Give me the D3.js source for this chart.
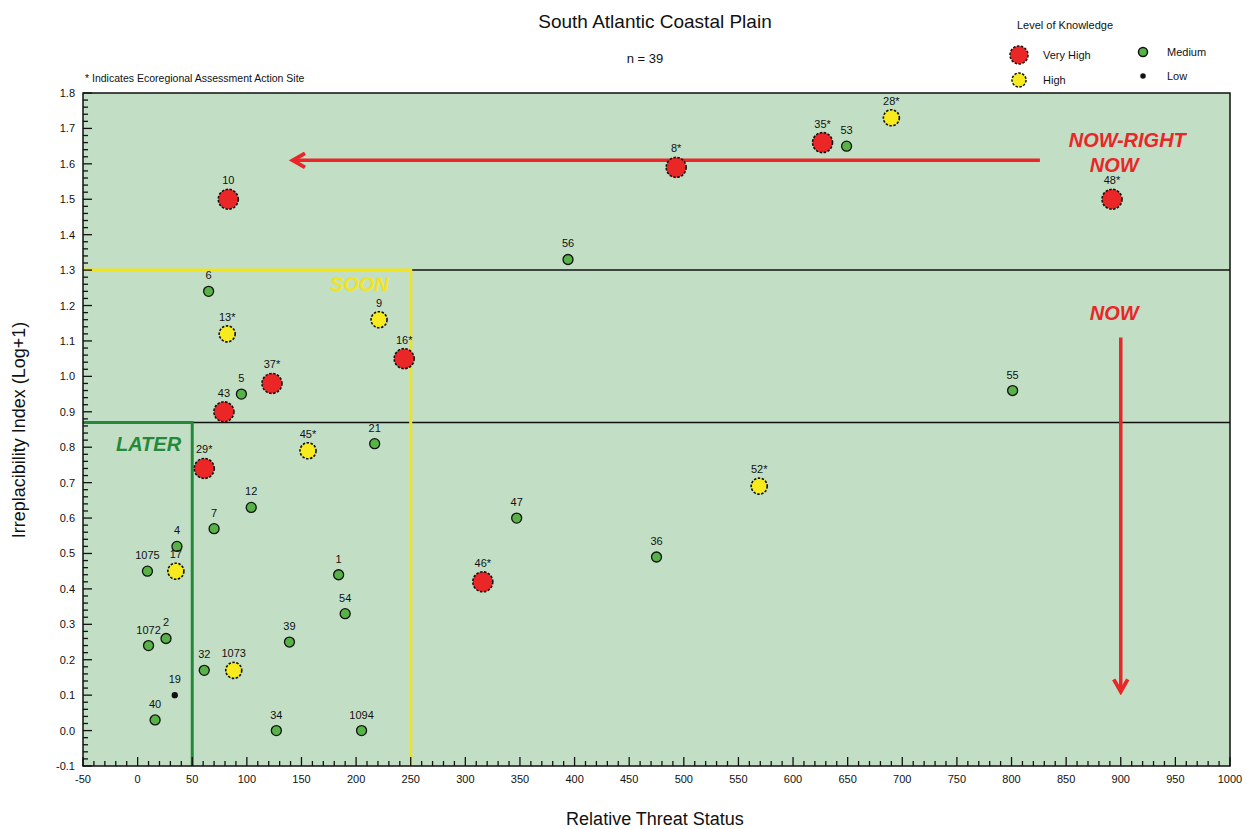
<!DOCTYPE html>
<html><head><meta charset="utf-8">
<script src="https://cdn.jsdelivr.net/npm/d3@7"></script>
<style>body{margin:0;background:#fff}svg{display:block;font-family:"Liberation Sans",Arial,sans-serif}</style>
</head><body><svg id="c" width="1246" height="829"></svg>
<script>
// ---- data ----
const veryHighLabels = ["10","8*","35*","48*","37*","16*","43","29*","46*"];
const veryHighX = [83, 493, 627, 892, 123, 244, 79, 61, 316];
const veryHighY = [1.50, 1.59, 1.66, 1.50, 0.98, 1.05, 0.90, 0.74, 0.42];
const highLabels = ["28*","13*","9","45*","17","1073","52*"];
const highX = [690, 82, 221, 156, 35, 88, 569];
const highY = [1.73, 1.12, 1.16, 0.79, 0.45, 0.17, 0.69];
const mediumLabels = ["53","56","6","5","21","12","7","4","1075","1","54","1072","2","39","32","40","34","1094","47","36","55"];
const mediumX = [649, 394, 65, 95, 217, 104, 70, 36, 9, 184, 190, 10, 26, 139, 61, 16, 127, 205, 347, 475, 801];
const mediumY = [1.65, 1.33, 1.24, 0.95, 0.81, 0.63, 0.57, 0.52, 0.45, 0.44, 0.33, 0.24, 0.26, 0.25, 0.17, 0.03, 0.00, 0.00, 0.60, 0.49, 0.96];
const lowLabels = ["19"];
const lowX = [34];
const lowY = [0.10];
const xTicks = d3.range(-50, 1001, 50);
const yTicks = d3.range(-1, 19).map(d => +(d / 10).toFixed(1));
const thresholdsY = [0.87, 1.3];
const laterBox = [-50, 50, -0.1, 0.87];
const soonBox = [-50, 250, -0.1, 1.3];

// ---- layout ----
const svg = d3.select("#c");
const L = 83, R = 1230, T = 93, B = 766;
const x = d3.scaleLinear().domain([-50, 1000]).range([L, R]);
const y = d3.scaleLinear().domain([-0.1, 1.8]).range([B, T]);

svg.append("rect").attr("x", L).attr("y", T).attr("width", R - L).attr("height", B - T).attr("fill", "#c2dfc5");

// threshold lines
thresholdsY.forEach(v => svg.append("line").attr("x1", L).attr("x2", R).attr("y1", y(v)).attr("y2", y(v)).attr("stroke", "#111").attr("stroke-width", 1.5));
// soon box
svg.append("path").attr("d", `M${x(soonBox[0])},${y(soonBox[3])}H${x(soonBox[1])}V${y(soonBox[2])}`)
  .attr("fill", "none").attr("stroke", "#f2e41c").attr("stroke-width", 3);
// later box
svg.append("path").attr("d", `M${x(laterBox[0])},${y(laterBox[3])}H${x(laterBox[1])}V${y(laterBox[2])}`)
  .attr("fill", "none").attr("stroke", "#24893a").attr("stroke-width", 3);

// axes (ticks inside)
const xMinor = d3.range(-50, 1001, 10);
const yMinor = d3.range(-10, 181, 2).map(d => d / 100);
const ax = svg.append("g").attr("stroke", "#111");
xMinor.forEach(v => { const major = xTicks.includes(v); ax.append("line").attr("x1", x(v)).attr("x2", x(v)).attr("y1", B).attr("y2", B - (major ? 9 : 5)).attr("stroke-width", 1.3); });
yMinor.forEach(v => { const major = Math.abs(v * 10 - Math.round(v * 10)) < 1e-6; ax.append("line").attr("y1", y(v)).attr("y2", y(v)).attr("x1", L).attr("x2", L + (major ? 9 : 5)).attr("stroke-width", 1.3); });
svg.append("rect").attr("x", L).attr("y", T).attr("width", R - L).attr("height", B - T).attr("fill", "none").attr("stroke", "#111").attr("stroke-width", 1.5);

svg.append("g").selectAll("text").data(xTicks).join("text")
  .attr("x", d => x(d)).attr("y", B + 17).attr("text-anchor", "middle").attr("font-size", 11).attr("fill", "#111").text(d => d);
svg.append("g").selectAll("text").data(yTicks).join("text")
  .attr("x", L - 8).attr("y", d => y(d) + 4).attr("text-anchor", "end").attr("font-size", 11).attr("fill", "#111").text(d => d.toFixed(1));

// arrows
const red = "#ea2629";
svg.append("defs").append("marker").attr("id", "ah").attr("viewBox", "0 0 10 10").attr("refX", 8).attr("refY", 5)
  .attr("markerWidth", 5).attr("markerHeight", 5).attr("orient", "auto-start-reverse")
  .append("path").attr("d", "M1,1L8,5L1,9").attr("fill", "none").attr("stroke", red).attr("stroke-width", 2.2);
svg.append("line").attr("x1", x(826)).attr("x2", x(142)).attr("y1", y(1.61)).attr("y2", y(1.61)).attr("stroke", red).attr("stroke-width", 3.5).attr("marker-end", "url(#ah)");
svg.append("line").attr("x1", x(900)).attr("x2", x(900)).attr("y1", y(1.11)).attr("y2", y(0.11)).attr("stroke", red).attr("stroke-width", 3.5).attr("marker-end", "url(#ah)");

// annotation texts
function note(t, xv, yv, col, size) {
  svg.append("text").attr("x", x(xv)).attr("y", y(yv)).attr("text-anchor", "middle").attr("font-size", size)
    .attr("font-weight", "bold").attr("font-style", "italic").attr("fill", col).text(t);
}
note("NOW-RIGHT", 906, 1.647, red, 20);
note("NOW", 894, 1.577, red, 20);
note("NOW", 894, 1.16, red, 20);
note("SOON", 203, 1.24, "#f2e41c", 20);
note("LATER", 10, 0.79, "#24893a", 20);

// points
function drawGroup(xs, ys, labels, fill, r, dash, labOff) {
  const g = svg.append("g");
  xs.forEach((xv, i) => {
    g.append("circle").attr("cx", x(xv)).attr("cy", y(ys[i])).attr("r", r).attr("fill", fill)
      .attr("stroke", "#111").attr("stroke-width", dash ? 1.6 : 1.3).attr("stroke-dasharray", dash ? "2.5,1.5" : null);
    g.append("text").attr("x", x(xv)).attr("y", y(ys[i]) - labOff).attr("text-anchor", "middle").attr("font-size", 11).attr("fill", "#111").text(labels[i]);
  });
}
drawGroup(mediumX, mediumY, mediumLabels, "#58b347", 5, false, 12);
drawGroup(lowX, lowY, lowLabels, "#111", 2.5, false, 12);
drawGroup(highX, highY, highLabels, "#f7ea1e", 8, true, 13);
drawGroup(veryHighX, veryHighY, veryHighLabels, "#ea2626", 10, true, 15);

// titles
svg.append("text").attr("x", 655).attr("y", 28).attr("text-anchor", "middle").attr("font-size", 19).attr("fill", "#111").text("South Atlantic Coastal Plain");
svg.append("text").attr("x", 645).attr("y", 63).attr("text-anchor", "middle").attr("font-size", 13).attr("fill", "#111").text("n = 39");
svg.append("text").attr("x", 85).attr("y", 82).attr("font-size", 10.5).attr("fill", "#111").text("* Indicates Ecoregional Assessment Action Site");
svg.append("text").attr("x", 655).attr("y", 825).attr("text-anchor", "middle").attr("font-size", 18).attr("fill", "#111").text("Relative Threat Status");
svg.append("text").attr("transform", "translate(25,430) rotate(-90)").attr("text-anchor", "middle").attr("font-size", 18).attr("fill", "#111").text("Irreplacibility Index (Log+1)");

// legend
const lg = svg.append("g");
lg.append("text").attr("x", 1065).attr("y", 29).attr("text-anchor", "middle").attr("font-size", 11).attr("fill", "#111").text("Level of Knowledge");
const leg = [
  {cx: 1019, cy: 55, r: 9, fill: "#ea2626", dash: true, t: "Very High"},
  {cx: 1019, cy: 80, r: 7, fill: "#f7ea1e", dash: true, t: "High"},
  {cx: 1143, cy: 52, r: 4.5, fill: "#58b347", dash: false, t: "Medium"},
  {cx: 1143, cy: 76, r: 2, fill: "#111", dash: false, t: "Low"}
];
leg.forEach(d => {
  lg.append("circle").attr("cx", d.cx).attr("cy", d.cy).attr("r", d.r).attr("fill", d.fill).attr("stroke", "#111")
    .attr("stroke-width", 1.5).attr("stroke-dasharray", d.dash ? "2.5,1.5" : null);
  lg.append("text").attr("x", d.cx + 24).attr("y", d.cy + 4).attr("font-size", 11).attr("fill", "#111").text(d.t);
});
</script></body></html>
